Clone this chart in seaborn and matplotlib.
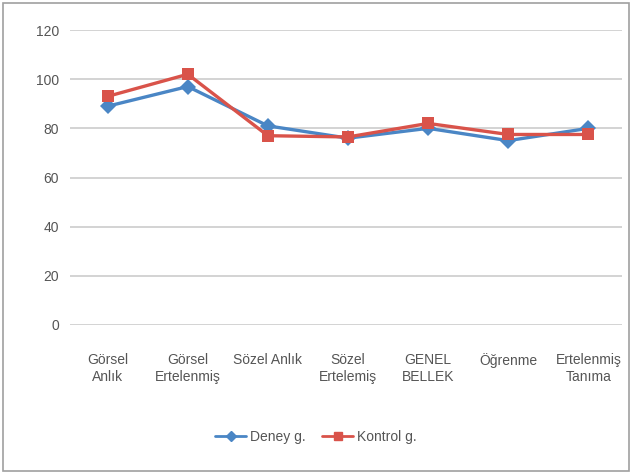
import numpy as np
import pandas as pd
import matplotlib
matplotlib.use("Agg")
import matplotlib.pyplot as plt
import seaborn as sns
from matplotlib.patches import Rectangle
from matplotlib.lines import Line2D

categories = ["Görsel\nAnlık", "Görsel\nErtelenmiş", "Sözel Anlık", "Sözel\nErtelemiş",
              "GENEL\nBELLEK", "Öğrenme", "Ertelenmiş\nTanıma"]
deney = [89, 97, 81, 76, 80, 75, 80]
kontrol = [93, 102, 77, 76.5, 82, 77.5, 77.5]
series_names = ["Deney g.", "Kontrol g."]

sns.set_style("white")
plt.rcParams['font.family'] = ['Liberation Sans Narrow', 'Liberation Sans', 'DejaVu Sans']

df = pd.DataFrame({
    "cat": list(range(len(categories))) * 2,
    "val": deney + kontrol,
    "grup": [series_names[0]] * len(deney) + [series_names[1]] * len(kontrol),
})

fig = plt.figure(figsize=(6.32, 4.74), dpi=100)
ax = fig.add_axes([70 / 632, 1 - 325 / 474, 552 / 632, 295 / 474])

sns.lineplot(data=df, x="cat", y="val", hue="grup", style="grup",
             palette=["#4A86C5", "#D9534A"], markers=["D", "s"], dashes=False,
             markersize=8, linewidth=2.4, markeredgewidth=0, ax=ax, legend=False)

ax.set_ylim(0, 120)
ax.set_yticks(range(0, 121, 20))
ax.set_xlim(-0.47, len(categories) - 0.58)
ax.set_xticks(range(len(categories)))
ax.set_xticklabels(categories, fontsize=10, color="#555555", linespacing=1.3)
ax.tick_params(axis="y", labelsize=10, labelcolor="#555555", length=0, pad=8)
ax.tick_params(axis="x", length=0, pad=20)
ax.yaxis.grid(True, color="#d0d0d0", linewidth=1.3)
for s in ax.spines.values():
    s.set_visible(False)
ax.set_xlabel("")
ax.set_ylabel("")

handles = [Line2D([], [], color="#4A86C5", marker="D", markersize=5, linewidth=2),
           Line2D([], [], color="#D9534A", marker="s", markersize=6, linewidth=2)]
fig.legend(handles, series_names, loc="center", bbox_to_anchor=(0.5, 1 - 437 / 474),
           ncol=2, frameon=False, fontsize=10, handlelength=2.2, columnspacing=1.2,
           handletextpad=0.3, labelcolor="#555555")

fig.patches.append(Rectangle((3 / 632, 3 / 474), 626 / 632, 468 / 474, transform=fig.transFigure,
                             fill=False, edgecolor="#a0a0a0", linewidth=1.2))

fig.savefig("out.png", dpi=100)
